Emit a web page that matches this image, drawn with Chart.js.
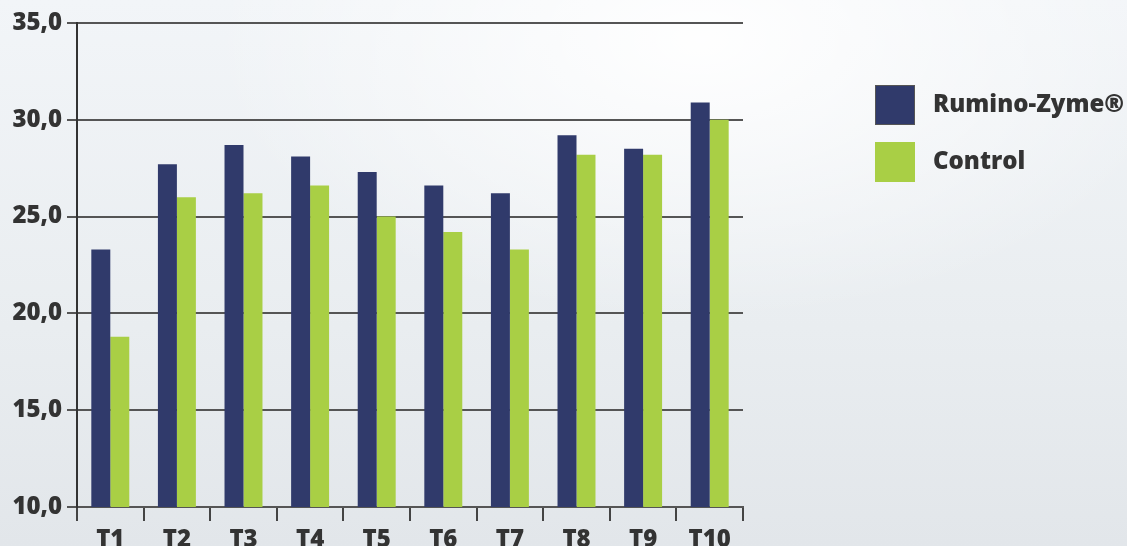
<!DOCTYPE html>
<html>
<head>
<meta charset="utf-8">
<script src="https://cdn.jsdelivr.net/npm/chart.js@4/dist/chart.umd.min.js"></script>
<style>
  html, body { margin: 0; padding: 0; }
  body {
    width: 1127px; height: 546px; overflow: hidden;
    background:
      radial-gradient(ellipse 700px 400px at 700px 40px, rgba(255,255,255,0.95), rgba(255,255,255,0) 70%),
      linear-gradient(180deg, #f2f5f8 0%, #e9edf0 60%, #e2e6ea 100%);
  }
  #wrap { position: absolute; left: 0; top: 0; width: 1127px; height: 546px; }
</style>
</head>
<body>
<div id="wrap"><canvas id="c" width="1127" height="546"></canvas></div>
<script>
const categories = ['T1','T2','T3','T4','T5','T6','T7','T8','T9','T10'];
const seriesNames = ['Rumino-Zyme®', 'Control'];
const ruminoZyme = [23.3, 27.7, 28.7, 28.1, 27.3, 26.6, 26.2, 29.2, 28.5, 30.9];
const control    = [18.8, 26.0, 26.2, 26.6, 25.0, 24.2, 23.3, 28.2, 28.2, 30.0];
const yTicks = [10, 15, 20, 25, 30, 35];
const colors = ['#303a6b', '#a9cf45'];

const FONT = "'Open Sans', 'DejaVu Sans', sans-serif";
const WEIGHT = '800';

const legendPlugin = {
  id: 'customLegend',
  afterDraw(chart) {
    const ctx = chart.ctx;
    const x0 = chart.chartArea.right + 132;
    const y0 = 85;
    const step = 57;
    ctx.save();
    chart.data.datasets.forEach((ds, i) => {
      const y = y0 + i * step;
      ctx.fillStyle = ds.backgroundColor;
      ctx.fillRect(x0, y, 40, 40);
      if (i === 0) {
        ctx.strokeStyle = '#555';
        ctx.lineWidth = 1;
        ctx.strokeRect(x0 + 0.5, y + 0.5, 39, 39);
      }
      ctx.fillStyle = '#333';
      ctx.font = WEIGHT + " 24px " + FONT;
      ctx.textBaseline = 'middle';
      ctx.textAlign = 'left';
      ctx.fillText(ds.label, x0 + 58, y + 20);
    });
    ctx.restore();
  }
};

new Chart(document.getElementById('c'), {
  type: 'bar',
  data: {
    labels: categories,
    datasets: [
      { label: seriesNames[0], data: ruminoZyme, backgroundColor: colors[0] },
      { label: seriesNames[1], data: control, backgroundColor: colors[1] }
    ]
  },
  options: {
    responsive: false,
    animation: false,
    devicePixelRatio: 1,
    layout: { padding: { left: 0, right: 384, top: 23, bottom: 0 } },
    plugins: { legend: { display: false }, tooltip: { enabled: false } },
    datasets: { bar: { categoryPercentage: 0.57, barPercentage: 1.0 } },
    scales: {
      x: {
        offset: true,
        grid: { display: true, drawOnChartArea: false, drawTicks: true, tickLength: 14, color: '#444', lineWidth: 2, offset: true },
        border: { display: true, color: '#555', width: 2 },
        ticks: { color: '#333', font: { family: FONT, size: 24, weight: WEIGHT }, padding: 5 },
        afterFit(s) { s.height = 39; }
      },
      y: {
        min: 10, max: 35,
        afterBuildTicks(s) { s.ticks = yTicks.map(v => ({ value: v })); },
        grid: { color: '#555', lineWidth: 2, tickLength: 10, drawTicks: true },
        border: { display: true, color: '#333', width: 2 },
        ticks: {
          color: '#333', padding: 5,
          font: { family: FONT, size: 24, weight: WEIGHT },
          callback: v => v.toFixed(1).replace('.', ',')
        },
        afterFit(s) { s.width = 77; }
      }
    }
  },
  plugins: [legendPlugin]
});
</script>
</body>
</html>
